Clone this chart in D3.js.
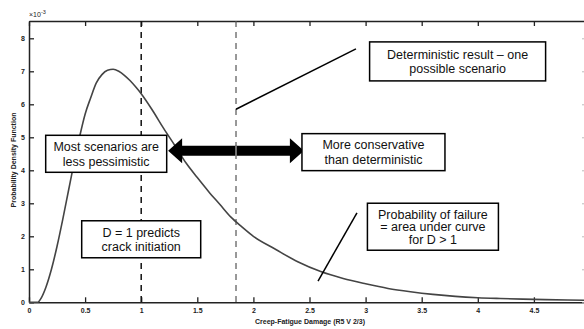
<!DOCTYPE html>
<html>
<head>
<meta charset="utf-8">
<script src="https://cdn.jsdelivr.net/npm/d3@7"></script>
<style>
  html, body { margin: 0; padding: 0; background: #fff; }
  svg { display: block; }
  text { font-family: "Liberation Sans", Arial, sans-serif; }
</style>
</head>
<body>
<svg id="chart" width="584" height="329"></svg>
<script>
// Probability density of creep-fatigue damage D (values in units of 1e-3)
const damage = [0, 0.05, 0.08, 0.1, 0.15, 0.2, 0.25, 0.3, 0.35, 0.4, 0.45, 0.5, 0.55, 0.6, 0.65,
  0.7, 0.75, 0.8, 0.85, 0.9, 0.95, 1.0, 1.1, 1.2, 1.3, 1.4, 1.5, 1.6, 1.7, 1.8, 1.9, 2.0,
  2.2, 2.4, 2.6, 2.8, 3.0, 3.2, 3.4, 3.6, 3.8, 4.0, 4.2, 4.4, 4.6, 4.8, 5.0];
const density = [0, 0, 0, 0.08, 0.45, 1.0, 1.7, 2.5, 3.35, 4.2, 5.0, 5.7, 6.2, 6.65, 6.9,
  7.03, 7.06, 7.0, 6.88, 6.72, 6.53, 6.32, 5.82, 5.27, 4.75, 4.22, 3.78, 3.36, 2.97, 2.58, 2.28, 2.0,
  1.6, 1.22, 0.93, 0.72, 0.56, 0.42, 0.32, 0.24, 0.18, 0.14, 0.115, 0.095, 0.08, 0.068, 0.058];

const xTicks = [0, 0.5, 1, 1.5, 2, 2.5, 3, 3.5, 4, 4.5];
const yTicks = [0, 1, 2, 3, 4, 5, 6, 7, 8];

// Reference damage values: D = 1 and the deterministic result
const criticalD = 1.0;
const deterministicD = 1.845;

// Annotation boxes: text lines and centre (in data units)
const boxLines = [
  ["Deterministic result \u2013 one", "possible scenario"],
  ["Most scenarios are", "less pessimistic"],
  ["More conservative", "than deterministic"],
  ["Probability of failure", "= area under curve", "for D > 1"],
  ["D = 1 predicts", "crack initiation"]
];
const boxCx = [3.82, 0.688, 3.07, 3.60, 1.0];
const boxCy = [7.30, 4.50, 4.55, 2.29, 1.91];

// Leader lines [x1, y1, x2, y2] in data units
const leaderX1 = [1.845, 2.923];
const leaderY1 = [5.85, 2.71];
const leaderX2 = [2.914, 2.576];
const leaderY2 = [7.68, 0.645];

// Double-headed arrow span
const arrowFrom = 1.24, arrowTo = 2.45, arrowLevel = 4.59;

const svg = d3.select("#chart");
const plotLeft = 29, plotTop = 21, plotBottom = 302.3;

const x = d3.scaleLinear().domain([0, 5]).range([plotLeft, plotLeft + 5 * 112.2]);
const y = d3.scaleLinear().domain([0, 8.5]).range([plotBottom, plotBottom - 8.5 * 33]);

const axisColor = "#222";
const tickFont = g => g.selectAll("text")
  .attr("fill", "#222").attr("font-size", 7).attr("font-weight", "bold")
  .style("font-family", "'Liberation Sans', Arial, sans-serif");
const axisStyle = g => {
  g.select(".domain").attr("stroke", axisColor).attr("stroke-width", 1.5);
  g.selectAll(".tick line").attr("stroke", axisColor).attr("stroke-width", 1.3);
};

// Bottom axis
svg.append("g").attr("transform", `translate(0,${plotBottom})`)
  .call(d3.axisBottom(x).tickValues(xTicks).tickSize(-5).tickSizeOuter(0).tickPadding(6)
    .tickFormat(d3.format("")))
  .call(axisStyle).call(tickFont);

// Top axis
svg.append("g").attr("transform", `translate(0,${plotTop})`)
  .call(d3.axisTop(x).tickValues(xTicks).tickSize(-5).tickSizeOuter(0).tickFormat(""))
  .call(axisStyle);

// Left axis
svg.append("g").attr("transform", `translate(${plotLeft},0)`)
  .call(d3.axisLeft(y).tickValues(yTicks).tickSize(-5).tickSizeOuter(0).tickPadding(4)
    .tickFormat(d3.format("d")))
  .call(axisStyle).call(tickFont);

// Right axis
svg.append("g").attr("transform", `translate(${x(5)},0)`)
  .call(d3.axisRight(y).tickValues(yTicks).tickSize(-8).tickSizeOuter(0).tickFormat(""))
  .call(g => {
    g.select(".domain").attr("stroke", axisColor).attr("stroke-width", 1.5);
    g.selectAll(".tick line").attr("stroke", "#bbb").attr("stroke-width", 1);
  });

// Exponent label
const expo = svg.append("text").attr("x", plotLeft).attr("y", 17)
  .attr("font-size", 7).attr("fill", "#222").text("\u00d710");
expo.append("tspan").attr("dy", -3).attr("font-size", 5.5).text("-3");

// Axis titles
svg.append("text").attr("x", 310).attr("y", 323.5).attr("text-anchor", "middle")
  .attr("font-size", 7).attr("font-weight", "bold").attr("fill", "#222")
  .text("Creep-Fatigue Damage (R5 V 2/3)");
svg.append("text").attr("transform", "translate(15.5,160) rotate(-90)")
  .attr("text-anchor", "middle").attr("font-size", 7).attr("font-weight", "bold").attr("fill", "#222")
  .text("Probability Density Function");

// Vertical reference lines
svg.append("line").attr("x1", x(criticalD)).attr("x2", x(criticalD))
  .attr("y1", plotTop).attr("y2", plotBottom)
  .attr("stroke", "#111").attr("stroke-width", 1.5).attr("stroke-dasharray", "6,5");
svg.append("line").attr("x1", x(deterministicD)).attr("x2", x(deterministicD))
  .attr("y1", plotTop).attr("y2", plotBottom)
  .attr("stroke", "#555").attr("stroke-width", 1.2).attr("stroke-dasharray", "6,5");

// Density curve
const pts = damage.map((d, i) => [d, density[i]]);
svg.append("path").datum(pts)
  .attr("fill", "none").attr("stroke", "#444").attr("stroke-width", 1.6)
  .attr("d", d3.line().x(d => x(d[0])).y(d => y(d[1])).curve(d3.curveMonotoneX));

// Leader lines
leaderX1.forEach((v, i) => {
  svg.append("line")
    .attr("x1", x(v)).attr("y1", y(leaderY1[i]))
    .attr("x2", x(leaderX2[i])).attr("y2", y(leaderY2[i]))
    .attr("stroke", "#000").attr("stroke-width", 1.5);
});

// Double-headed arrow
{
  const x0 = x(arrowFrom), x1 = x(arrowTo), yc = y(arrowLevel);
  const hl = 14, hh = 12.5, sh = 5;
  const path = [
    [x0, yc], [x0 + hl, yc - hh], [x0 + hl, yc - sh], [x1 - hl, yc - sh], [x1 - hl, yc - hh],
    [x1, yc], [x1 - hl, yc + hh], [x1 - hl, yc + sh], [x0 + hl, yc + sh], [x0 + hl, yc + hh]
  ];
  svg.append("path").attr("d", "M" + path.join("L") + "Z").attr("fill", "#000");
  svg.append("line").attr("x1", x(deterministicD)).attr("x2", x(deterministicD))
    .attr("y1", yc - sh).attr("y2", yc + sh).attr("stroke", "#ddd").attr("stroke-width", 1);
}

// Annotation boxes
const boxW = [176, 121, 143, 131, 119];
const boxH = [39, 37, 37, 47, 37];
boxLines.forEach((lines, i) => {
  const cx = x(boxCx[i]), cy = y(boxCy[i]);
  const g = svg.append("g");
  g.append("rect").attr("x", cx - boxW[i] / 2).attr("y", cy - boxH[i] / 2)
    .attr("width", boxW[i]).attr("height", boxH[i])
    .attr("fill", "#fff").attr("stroke", "#000").attr("stroke-width", 1.5);
  const lh = lines.length === 3 ? 12.7 : 14.5;
  const y0 = cy - (lines.length - 1) * lh / 2;
  lines.forEach((t, j) => {
    g.append("text").attr("x", cx).attr("y", y0 + j * lh).attr("dy", "0.36em")
      .attr("text-anchor", "middle").attr("font-size", 12.5).attr("fill", "#111").text(t);
  });
});
</script>
</body>
</html>
